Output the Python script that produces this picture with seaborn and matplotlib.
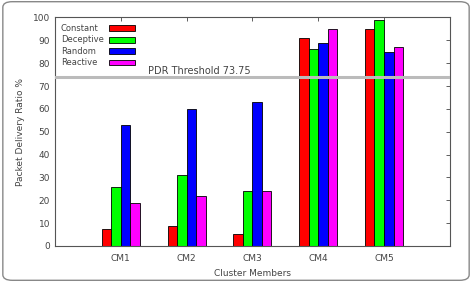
import numpy as np
import pandas as pd
import matplotlib
matplotlib.use('Agg')
import matplotlib.pyplot as plt
import seaborn as sns
from matplotlib.patches import FancyBboxPatch, Rectangle

members = ["CM1", "CM2", "CM3", "CM4", "CM5"]
attacks = ["Constant", "Deceptive", "Random", "Reactive"]
constant = [7.5, 8.5, 5, 91, 95]
deceptive = [26, 31, 24, 86, 99]
random_ = [53, 60, 63, 89, 85]
reactive = [19, 22, 24, 95, 87]
threshold = 73.75
colors = ["#ff0000", "#00ff00", "#0000ff", "#ff00ff"]

df = pd.DataFrame({
    "member": members * 4,
    "attack": sum([[a] * 5 for a in attacks], []),
    "pdr": constant + deceptive + random_ + reactive,
})

sns.set_style("white")
plt.rcParams['font.family'] = ['DejaVu Sans']
txt = "#444444"

fig = plt.figure(figsize=(4.72, 2.82), dpi=100)
ax = fig.add_axes([0.1165, 0.128, 0.8365, 0.81])

sns.barplot(data=df, x="member", y="pdr", hue="attack", order=members,
            hue_order=attacks, palette=colors, width=0.58, ax=ax,
            saturation=1, edgecolor="black", linewidth=0.6, legend=False)

ax.axhline(threshold, color="#bbbbbb", lw=2.2, zorder=5)
ax.text(0.42, threshold + 0.6, f"PDR Threshold {threshold}", fontsize=7.0,
        color=txt, va="bottom", ha="left")

ax.set_xlim(-1, 5)
ax.set_ylim(0, 100)
ax.set_yticks(range(0, 101, 10))
ax.tick_params(direction="in", length=3, top=True, right=True,
               labelsize=6.5, colors=txt, width=0.6, labelcolor=txt)
ax.tick_params(axis="x", pad=6)
for s in ax.spines.values():
    s.set_color("#555555")
    s.set_linewidth(0.8)
ax.set_xlabel("Cluster Members", fontsize=6.5, color=txt, labelpad=4)
ax.set_ylabel("Packet Delivery Ratio %", fontsize=6.5, color=txt, labelpad=6)

# gnuplot-style key: label on the left, swatch on the right
for i, (name, c) in enumerate(zip(attacks, colors)):
    yk = 0.953 - i * 0.05
    ax.text(0.015, yk, name, transform=ax.transAxes, fontsize=6.0,
            color=txt, va="center", ha="left")
    ax.add_patch(Rectangle((0.136, yk - 0.013), 0.066, 0.026,
                           transform=ax.transAxes, facecolor=c,
                           edgecolor="black", lw=0.6, clip_on=False))

frame = FancyBboxPatch((0.006, 0.006), 0.988, 0.988, boxstyle="round,pad=0,rounding_size=0.02",
                       transform=fig.transFigure, fill=False, edgecolor="#888888", lw=1.0)
fig.patches.append(frame)

fig.savefig("out.png", dpi=100)
